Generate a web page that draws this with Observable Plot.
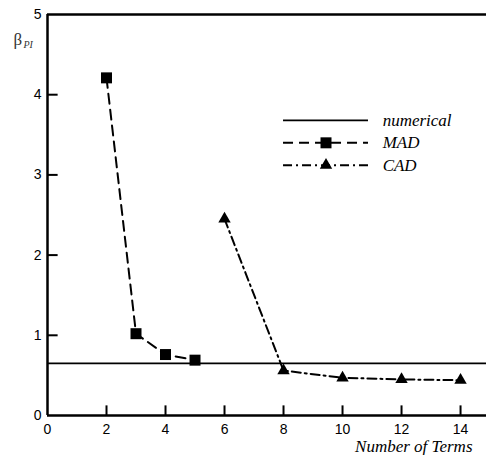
<!DOCTYPE html>
<html>
<head>
<meta charset="utf-8">
<script src="https://cdn.jsdelivr.net/npm/d3@7"></script>
<script src="https://cdn.jsdelivr.net/npm/@observablehq/plot@0.6"></script>
</head>
<body style="margin:0;padding:0;background:#fff">
<div id="chart"></div>
<script>
// Data
const madTerms = [2, 3, 4, 5];
const madValues = [4.21, 1.02, 0.76, 0.69];
const cadTerms = [6, 8, 10, 12, 14];
const cadValues = [2.45, 0.56, 0.47, 0.45, 0.44];
const numericalValue = 0.65;
const xTicks = [0, 2, 4, 6, 8, 10, 12, 14];
const yTicks = [0, 1, 2, 3, 4, 5];
const seriesNames = ["numerical", "MAD", "CAD"];
const xLabel = "Number of Terms";
const yLabel = "\u03B2";
const yLabelSub = "PI";

const mad = madTerms.map((x, i) => ({x, y: madValues[i]}));
const cad = cadTerms.map((x, i) => ({x, y: cadValues[i]}));

// legend rows in data units
const legX1 = 8.0, legX2 = 10.88, legXm = 9.44, legXt = 11.36;
const legY = [3.68, 3.40, 3.12];
const legend = seriesNames.map((name, i) => ({name, y: legY[i]}));

const serif = "Liberation Serif";
const sans = "Liberation Sans";

const chart = Plot.plot({
  width: 486,
  height: 455,
  marginLeft: 47,
  marginRight: 0,
  marginTop: 14,
  marginBottom: 40,
  x: {domain: [0, 14.88]},
  y: {domain: [0, 5]},
  marks: [
    Plot.axisX(xTicks, {tickSize: 0, tickPadding: 9, fontSize: 14, fontFamily: sans, label: null, tickFormat: "d"}),
    Plot.axisY(yTicks, {tickSize: 0, tickPadding: 6, fontSize: 14, fontFamily: sans, label: null, tickFormat: "d"}),
    // inward ticks
    Plot.ruleX(xTicks.slice(1), {y1: 0, y2: 0.12, strokeWidth: 2}),
    Plot.ruleY(yTicks.slice(1, 5), {x1: 0, x2: 0.36, strokeWidth: 2}),
    // frame
    Plot.ruleY([5], {strokeWidth: 2.5}),
    Plot.ruleY([0], {strokeWidth: 2.5}),
    Plot.ruleX([0], {strokeWidth: 2.5}),
    // numerical
    Plot.ruleY([numericalValue], {strokeWidth: 1.6}),
    // MAD
    Plot.line(mad, {x: "x", y: "y", strokeWidth: 2, strokeDasharray: "10,6"}),
    Plot.dot(mad, {x: "x", y: "y", symbol: "square", r: 6.2, fill: "black", stroke: "none"}),
    // CAD
    Plot.line(cad, {x: "x", y: "y", strokeWidth: 2, strokeDasharray: "9,4,2,4"}),
    Plot.dot(cad, {x: "x", y: "y", symbol: "triangle", r: 4.6, fill: "black", stroke: "none"}),
    // legend
    Plot.ruleY([legend[0]], {y: "y", x1: legX1, x2: legX2, strokeWidth: 1.8}),
    Plot.ruleY([legend[1]], {y: "y", x1: legX1, x2: legX2, strokeWidth: 2, strokeDasharray: "10,6"}),
    Plot.ruleY([legend[2]], {y: "y", x1: legX1, x2: legX2, strokeWidth: 2, strokeDasharray: "9,4,2,4"}),
    Plot.dot([legend[1]], {x: () => legXm, y: "y", symbol: "square", r: 6.2, fill: "black", stroke: "none"}),
    Plot.dot([legend[2]], {x: () => legXm, y: "y", symbol: "triangle", r: 4.6, fill: "black", stroke: "none"}),
    Plot.text(legend, {x: () => legXt, y: "y", text: "name", textAnchor: "start", fontFamily: serif, fontStyle: "italic", fontSize: 17}),
    // axis titles
    Plot.text([xLabel], {frameAnchor: "bottom-right", dx: -14, dy: 31, lineAnchor: "middle", textAnchor: "end", fontFamily: serif, fontStyle: "italic", fontSize: 17}),
    Plot.text([yLabel], {frameAnchor: "top-left", dx: -34, dy: 25, lineAnchor: "middle", textAnchor: "start", fontFamily: serif, fontSize: 17, fill: "#333"}),
    Plot.text([yLabelSub], {frameAnchor: "top-left", dx: -24, dy: 30, lineAnchor: "middle", textAnchor: "start", fontFamily: serif, fontStyle: "italic", fontSize: 10, fill: "#333"})
  ]
});
document.getElementById("chart").appendChild(chart);
</script>
</body>
</html>
